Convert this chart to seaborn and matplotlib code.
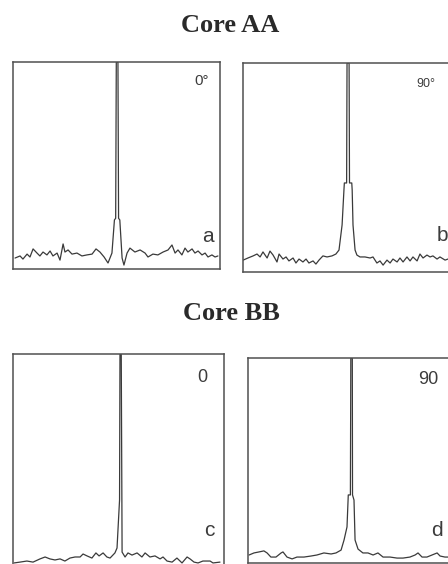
import matplotlib
matplotlib.use("Agg")
import matplotlib.pyplot as plt
import seaborn as sns
import pandas as pd

sns.set_style("white")
plt.rcParams['font.family'] = ['Liberation Sans', 'DejaVu Sans']

# ---------------- data (channel position 0-100, intensity % of full scale) ----------------
group_titles = ["Core AA", "Core BB"]
angle_labels = ["0°", "90°", "0", "90"]
panel_letters = ["a", "b", "c", "d"]

a_x = [1.0, 3.4, 4.8, 6.8, 8.2, 9.7, 11.6, 13.0, 14.5, 16.4, 17.9, 19.3, 21.3, 22.7, 24.2, 25.1,
       26.6, 28.5, 30.9, 33.3, 35.7, 38.2, 40.1, 42.0, 44.0, 45.9, 47.8,
       49.0, 49.6, 49.9, 50.7, 51.0, 51.6,
       52.7, 53.6, 55.1, 56.5, 58.9, 61.4, 63.8, 65.2, 67.6, 70.0, 72.5, 74.9, 76.8, 78.3,
       79.7, 81.6, 83.1, 84.5, 86.5, 87.9, 89.4, 91.3, 92.8, 94.2, 96.1, 97.6, 99.0]
a_y = [5.3, 6.3, 4.8, 7.2, 5.8, 9.7, 7.7, 6.3, 8.2, 6.8, 8.7, 6.3, 7.7, 4.3, 12.1, 8.2,
       9.2, 7.2, 7.7, 6.3, 6.8, 7.2, 9.7, 8.2, 5.8, 2.9, 7.7,
       23.7, 24.5, 100.0, 100.0, 24.5, 23.7,
       5.3, 1.9, 7.7, 10.1, 8.2, 9.2, 7.7, 5.8, 7.2, 6.8, 8.2, 9.2, 11.6, 7.7,
       9.2, 6.8, 10.1, 8.2, 9.7, 7.7, 8.7, 6.8, 7.7, 5.8, 6.8, 5.8, 6.3]

b_x = [0.1, 2.4, 4.9, 6.8, 8.3, 9.7, 11.7, 13.1, 14.6, 16.5, 17.5, 19.4, 20.9, 22.3, 24.3,
       25.7, 27.2, 29.1, 30.6, 32.0, 34.0, 35.4, 36.9, 38.8, 40.8, 43.2, 45.1,
       46.6, 48.1, 49.0, 49.2, 50.3, 50.5, 51.5, 51.7, 52.8, 53.0, 53.4, 54.4,
       55.3, 56.8, 59.2, 61.7, 63.1, 65.0, 66.5, 68.0, 69.9, 71.4, 72.8, 74.8, 76.2,
       77.7, 79.6, 81.1, 82.5, 84.5, 85.9, 87.4, 89.3, 90.8, 92.2, 94.2, 95.6, 98.1, 99.5]
b_y = [5.7, 6.7, 7.7, 8.6, 7.2, 9.6, 6.7, 10.0, 8.1, 4.8, 8.6, 6.2, 7.2, 5.3, 6.7,
       4.3, 6.2, 4.8, 6.2, 4.3, 5.3, 3.8, 5.7, 7.7, 7.2, 7.7, 8.6,
       10.5, 22.5, 39.2, 42.6, 42.6, 100.0, 100.0, 42.6, 42.6, 39.2, 22.5, 10.5,
       8.1, 7.2, 7.2, 6.7, 7.2, 4.3, 5.3, 3.3, 5.7, 4.3, 6.2, 4.8, 6.7,
       4.8, 7.2, 5.3, 7.2, 5.3, 8.6, 6.7, 8.1, 7.2, 7.7, 6.2, 7.2, 5.7, 6.2]

c_x = [0.5, 3.3, 6.6, 9.5, 12.8, 15.2, 17.5, 19.9, 22.3, 24.6, 27.0, 29.4, 31.8, 33.2,
       35.1, 37.4, 39.3, 40.8, 42.7, 44.5, 46.0, 48.3,
       49.3, 50.5, 50.7, 51.3, 51.6, 51.7,
       53.1, 54.5, 56.4, 58.8, 61.1, 62.6, 64.9, 67.3, 69.7, 71.1, 73.0, 75.4, 77.7,
       80.1, 82.5, 83.9, 85.8, 87.7, 90.0, 93.4, 94.8, 98.1]
c_y = [1.9, 2.3, 2.8, 2.3, 3.8, 4.7, 3.8, 3.3, 3.8, 2.8, 4.2, 4.7, 4.7, 6.1,
       5.2, 4.2, 6.6, 5.2, 6.6, 4.7, 4.2, 6.6,
       8.9, 31.5, 100.0, 100.0, 31.5, 7.0,
       4.7, 6.6, 5.6, 6.6, 4.7, 6.6, 4.7, 5.2, 3.8, 4.7, 2.8, 2.3, 4.2,
       1.9, 4.7, 3.8, 2.3, 1.9, 2.8, 2.8, 1.9, 2.3]

d_x = [0.5, 2.8, 5.2, 7.5, 9.0, 10.8, 13.2, 15.6, 16.5, 18.4, 20.8, 23.1, 26.4, 29.7,
       32.5, 35.8, 39.2, 41.5, 43.9, 45.3, 46.7,
       47.3, 48.3, 48.5, 49.2, 49.3, 50.0, 50.5,
       51.9, 54.2, 56.6, 59.0, 61.3, 63.7, 67.0, 70.3, 73.1, 76.4, 78.8, 80.2, 82.1,
       84.4, 86.8, 89.2, 90.6, 92.9, 94.3]
d_y = [3.9, 4.9, 5.4, 5.9, 4.9, 2.9, 2.9, 4.9, 5.4, 2.9, 2.0, 2.9, 2.9, 3.4,
       3.9, 4.9, 4.4, 4.9, 6.3, 11.2, 17.6,
       33.2, 33.2, 100.0, 100.0, 33.2, 30.7, 11.2,
       6.8, 4.9, 4.9, 3.9, 4.9, 2.9, 2.9, 2.4, 2.4, 2.9, 3.9, 4.9, 2.9,
       2.9, 3.9, 4.9, 3.4, 2.9, 2.9]

panels = [
    ("a", a_x, a_y),
    ("b", b_x, b_y),
    ("c", c_x, c_y),
    ("d", d_x, d_y),
]

# ---------------- layout ----------------
W, H = 448, 564
fig = plt.figure(figsize=(W / 100, H / 100), dpi=100)
fig.patch.set_facecolor("white")

# axes boxes in pixels: left, top, right, bottom
boxes = {
    "a": (13, 62, 220, 269),
    "b": (243, 63, 449, 272),
    "c": (13, 354, 224, 567),
    "d": (248, 358, 460, 563),
}

line_col = "#3a3a3a"
spine_col = "#505050"
text_col = "#3c3c3c"

axes = {}
for key, xs, ys in panels:
    l, t, r, b = boxes[key]
    ax = fig.add_axes([l / W, 1 - b / H, (r - l) / W, (b - t) / H])
    df = pd.DataFrame({"pos": xs, "intensity": ys})
    sns.lineplot(data=df, x="pos", y="intensity", ax=ax, sort=False, estimator=None,
                 color=line_col, linewidth=0.9)
    ax.set_xlim(0, 100)
    ax.set_ylim(0, 100)
    ax.set_xticks([])
    ax.set_yticks([])
    ax.set_xlabel("")
    ax.set_ylabel("")
    for s in ax.spines.values():
        s.set_visible(True)
        s.set_color(spine_col)
        s.set_linewidth(1.1)
    axes[key] = ax

# titles
fig.text(230 / W, 1 - 25 / H, group_titles[0], ha="center", va="center",
         fontsize=19, fontweight="bold", family=["Liberation Serif", "DejaVu Serif"], color="#2a2a2a")
fig.text(231 / W, 1 - 313 / H, group_titles[1], ha="center", va="center",
         fontsize=19, fontweight="bold", family=["Liberation Serif", "DejaVu Serif"], color="#2a2a2a")

# angle labels (pixel positions of centres)
angle_pos = [(202, 81, 11), (426, 84, 9), (202, 377, 13), (428, 379, 13)]
for lab, (px, py, fs) in zip(angle_labels, angle_pos):
    fig.text(px / W, 1 - py / H, lab, ha="center", va="center", fontsize=fs, color=text_col)

# panel letters
letter_pos = [(208, 236), (442, 235), (209, 531), (437, 531)]
for lab, (px, py) in zip(panel_letters, letter_pos):
    fig.text(px / W, 1 - py / H, lab, ha="center", va="center", fontsize=15, color=text_col)

fig.savefig("out.png", dpi=100, facecolor="white")
